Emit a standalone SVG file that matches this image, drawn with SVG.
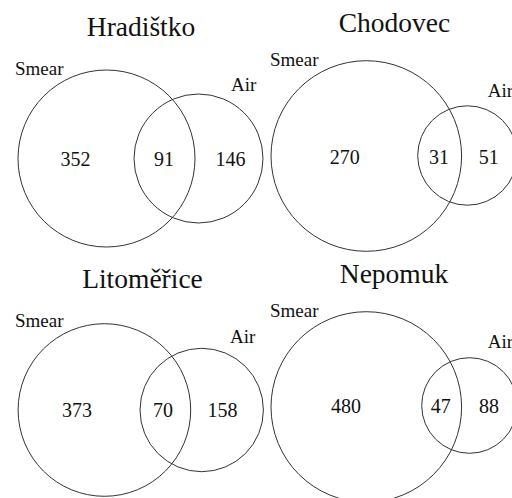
<svg xmlns="http://www.w3.org/2000/svg" width="512" height="498" viewBox="0 0 512 498">
<style>
.c{fill:none;stroke:#333;stroke-width:1}
.t,.l,.n{font-family:'Liberation Serif','Times New Roman',Times,'DejaVu Serif',serif;fill:#111}
.t{font-size:27.5px;text-anchor:middle}
.l{font-size:19px}
.n{font-size:20px;text-anchor:middle}
</style>
<rect width="512" height="498" fill="#fff"/>
<g id="hradistko">
<circle class="c" cx="106.5" cy="158.5" r="88.5"/>
<circle class="c" cx="198.5" cy="158.5" r="64.5"/>
<text class="t" x="141" y="36">Hradištko</text>
<text class="l" x="15" y="75">Smear</text>
<text class="l" x="231" y="90.5">Air</text>
<text class="n" x="75.5" y="166">352</text>
<text class="n" x="164" y="166">91</text>
<text class="n" x="230.5" y="166">146</text>
</g>
<g id="chodovec">
<circle class="c" cx="366.3" cy="156" r="95.3"/>
<circle class="c" cx="467.4" cy="155.5" r="49.7"/>
<text class="t" x="394.5" y="32">Chodovec</text>
<text class="l" x="270" y="66">Smear</text>
<text class="l" x="487.7" y="96.5">Air</text>
<text class="n" x="344.7" y="163.5">270</text>
<text class="n" x="439" y="163.5">31</text>
<text class="n" x="488.7" y="163.5">51</text>
</g>
<g id="litomerice">
<circle class="c" cx="104.4" cy="410" r="86.3"/>
<circle class="c" cx="201.7" cy="410" r="61.7"/>
<text class="t" x="142.5" y="288">Litoměřice</text>
<text class="l" x="15" y="326.5">Smear</text>
<text class="l" x="230" y="343.3">Air</text>
<text class="n" x="77" y="416.7">373</text>
<text class="n" x="163" y="416.7">70</text>
<text class="n" x="222.5" y="416.7">158</text>
</g>
<g id="nepomuk">
<circle class="c" cx="366.3" cy="407" r="95.3"/>
<circle class="c" cx="469.5" cy="405.5" r="47.8"/>
<text class="t" x="394" y="283">Nepomuk</text>
<text class="l" x="270" y="316.5">Smear</text>
<text class="l" x="487.7" y="347.7">Air</text>
<text class="n" x="346" y="413.3">480</text>
<text class="n" x="440.8" y="413.3">47</text>
<text class="n" x="489" y="413.3">88</text>
</g>
<g id="connectors"/>
</svg>
